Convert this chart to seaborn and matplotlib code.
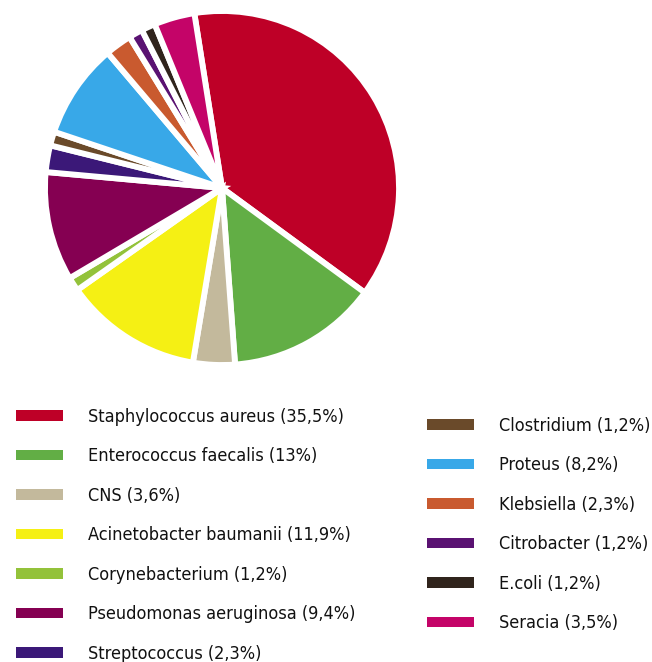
import matplotlib
matplotlib.use("Agg")
import matplotlib.pyplot as plt
import matplotlib.font_manager as fm
import seaborn as sns

species = [
    "Staphylococcus aureus", "Enterococcus faecalis", "CNS",
    "Acinetobacter baumanii", "Corynebacterium", "Pseudomonas aeruginosa",
    "Streptococcus", "Clostridium", "Proteus", "Klebsiella",
    "Citrobacter", "E.coli", "Seracia",
]
share_labels = ["35,5", "13", "3,6", "11,9", "1,2", "9,4",
                "2,3", "1,2", "8,2", "2,3", "1,2", "1,2", "3,5"]
shares = [35.5, 13, 3.6, 11.9, 1.2, 9.4, 2.3, 1.2, 8.2, 2.3, 1.2, 1.2, 3.5]
colors = ["#BE0027", "#62AE45", "#C3B99C", "#F5F014", "#93C23A", "#850052",
          "#3B1878", "#6A4A2A", "#38A8E8", "#C95A2F", "#5A1272", "#30241C",
          "#C40468"]

sns.set_theme(style="white")
plt.rcParams["font.family"] = ["DejaVu Sans"]
plt.rcParams["font.stretch"] = "condensed"
plt.rcParams["text.color"] = "#111111"

fig = plt.figure(figsize=(6.52, 6.62), dpi=100)
W, H = 652, 662
cx, cy, r = 222, 188, 177
ax = fig.add_axes([(cx - r) / W, (H - cy - r) / H, 2 * r / W, 2 * r / H])
wedges, _ = ax.pie(shares, colors=colors, startangle=99, counterclock=False,
                   radius=1.0,
                   wedgeprops=dict(edgecolor="white", linewidth=4.2))
ax.set_xlim(-1, 1)
ax.set_ylim(-1, 1)
ax.set_aspect("equal")
ax.axis("off")
for w in wedges:
    w.set_clip_on(False)

labels = [f"{n} ({s}%)" for n, s in zip(species, share_labels)]
font = fm.FontProperties(family="DejaVu Sans", stretch="condensed", size=13)
legend_kw = dict(frameon=False, prop=font, handlelength=2.6,
                 handleheight=0.5, handletextpad=1.4, labelspacing=1.19,
                 borderpad=0, borderaxespad=0, loc="upper left")
leg1 = fig.legend(wedges[:7], labels[:7],
                  bbox_to_anchor=(16 / W, 1 - 408 / H), **legend_kw)
leg2 = fig.legend(wedges[7:], labels[7:],
                  bbox_to_anchor=(427 / W, 1 - 417 / H), **legend_kw)
for leg in (leg1, leg2):
    for h in leg.legend_handles:
        h.set_edgecolor("none")

fig.savefig("out.png", dpi=100)
